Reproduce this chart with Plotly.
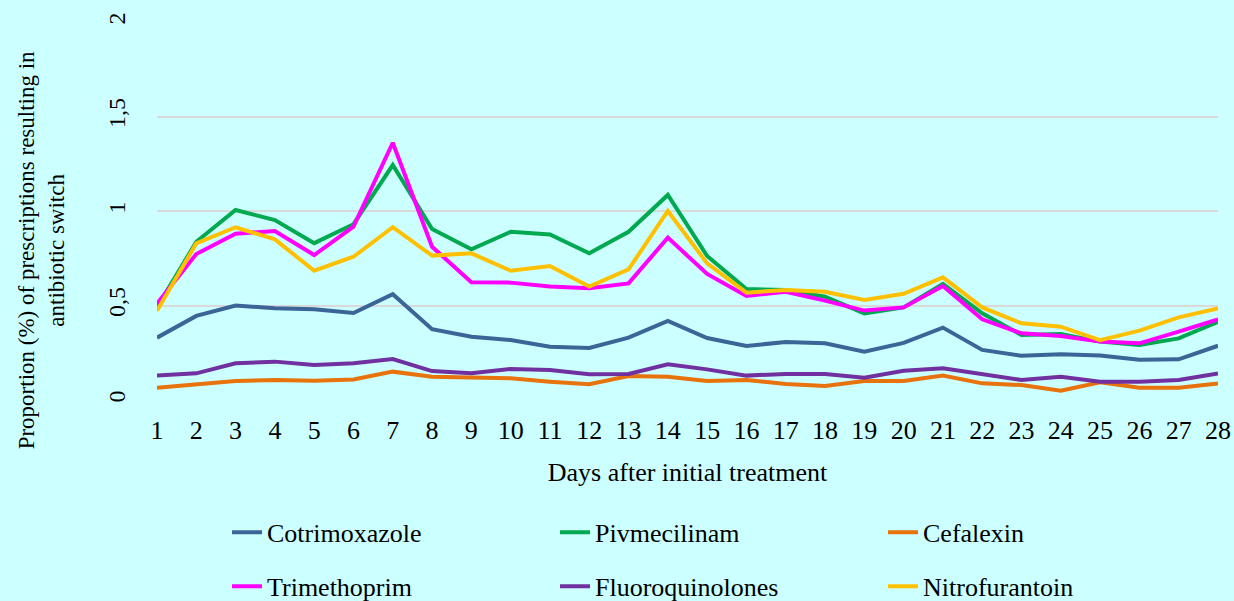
import plotly.graph_objects as go

days = list(range(1, 29))

cotrimoxazole = [0.33, 0.445, 0.50, 0.485, 0.48, 0.46, 0.56, 0.375, 0.335, 0.317,
                 0.282, 0.275, 0.33, 0.418, 0.328, 0.286, 0.307, 0.30, 0.256, 0.302,
                 0.383, 0.265, 0.234, 0.242, 0.236, 0.213, 0.215, 0.287]
pivmecilinam = [0.49, 0.837, 1.005, 0.952, 0.83, 0.93, 1.243, 0.905, 0.797, 0.89,
                0.876, 0.776, 0.89, 1.085, 0.762, 0.587, 0.582, 0.547, 0.458, 0.49,
                0.614, 0.459, 0.344, 0.349, 0.309, 0.291, 0.326, 0.414]
cefalexin = [0.065, 0.085, 0.10, 0.106, 0.102, 0.109, 0.15, 0.123, 0.118, 0.115,
             0.097, 0.083, 0.127, 0.123, 0.10, 0.106, 0.085, 0.074, 0.10, 0.10,
             0.129, 0.088, 0.079, 0.049, 0.094, 0.065, 0.065, 0.088]
trimethoprim = [0.51, 0.772, 0.88, 0.894, 0.767, 0.917, 1.361, 0.811, 0.623, 0.621,
                0.60, 0.591, 0.617, 0.859, 0.667, 0.55, 0.573, 0.526, 0.473, 0.49,
                0.603, 0.427, 0.353, 0.339, 0.309, 0.30, 0.362, 0.427]
fluoroquinolones = [0.129, 0.141, 0.194, 0.203, 0.185, 0.194, 0.217, 0.153, 0.141, 0.164,
                    0.159, 0.136, 0.138, 0.189, 0.162, 0.129, 0.138, 0.138, 0.118, 0.155,
                    0.168, 0.136, 0.106, 0.123, 0.097, 0.097, 0.106, 0.141]
nitrofurantoin = [0.472, 0.829, 0.914, 0.85, 0.684, 0.758, 0.914, 0.764, 0.776, 0.684,
                  0.709, 0.60, 0.691, 1.0, 0.723, 0.568, 0.582, 0.573, 0.529, 0.562,
                  0.649, 0.49, 0.406, 0.388, 0.317, 0.367, 0.437, 0.485]

y_tickvals = [0, 0.5, 1, 1.5, 2]
y_ticktext = ["0", "0,5", "1", "1,5", "2"]

series = [
    ("Cotrimoxazole", cotrimoxazole, "#3A6596", "legend"),
    ("Pivmecilinam", pivmecilinam, "#00A84F", "legend"),
    ("Cefalexin", cefalexin, "#E8720C", "legend"),
    ("Trimethoprim", trimethoprim, "#FF00FF", "legend2"),
    ("Fluoroquinolones", fluoroquinolones, "#7030A0", "legend2"),
    ("Nitrofurantoin", nitrofurantoin, "#FFC000", "legend2"),
]

FONT = "Liberation Serif"

fig = go.Figure()
for name, vals, color, leg in series:
    fig.add_trace(go.Scatter(x=days, y=vals, mode="lines", name=name,
                             line=dict(color=color, width=4), legend=leg))

legend_common = dict(orientation="h", entrywidth=283, entrywidthmode="pixels",
                     font=dict(family=FONT, size=26, color="#000000"),
                     bgcolor="rgba(0,0,0,0)", xanchor="left", yanchor="middle",
                     itemclick=False, itemdoubleclick=False)

fig.update_layout(
    width=1234, height=601,
    margin=dict(l=157, r=16, t=22, b=201, autoexpand=False),
    paper_bgcolor="#CCFFFF", plot_bgcolor="#CCFFFF",
    font=dict(family=FONT, color="#000000"),
    showlegend=True,
    legend=dict(x=0.066, y=-0.35, **legend_common),
    legend2=dict(x=0.066, y=-0.493, **legend_common),
    xaxis=dict(range=[1, 28], tickmode="array", tickvals=days,
               showgrid=False, zeroline=False, showline=False,
               tickfont=dict(family=FONT, size=26), ticklabelstandoff=12,
               title=dict(text="Days after initial treatment",
                          font=dict(family=FONT, size=26), standoff=18)),
    yaxis=dict(range=[0, 2], tickmode="array", tickvals=y_tickvals, ticktext=y_ticktext,
               showgrid=True, gridcolor="#D9D9D9", gridwidth=1.5,
               zeroline=False, showline=False, tickangle=-90,
               tickfont=dict(family=FONT, size=24), ticklabelstandoff=26),
    annotations=[dict(text="Proportion (%) of prescriptions resulting in<br>antibiotic switch",
                      xref="paper", yref="paper", x=-0.108, y=0.397,
                      xanchor="center", yanchor="middle", textangle=-90,
                      showarrow=False, font=dict(family=FONT, size=23))],
)

fig.write_html("out.html", config={"displayModeBar": False},
               post_script="document.body.style.margin='0';document.body.style.overflow='hidden';")
